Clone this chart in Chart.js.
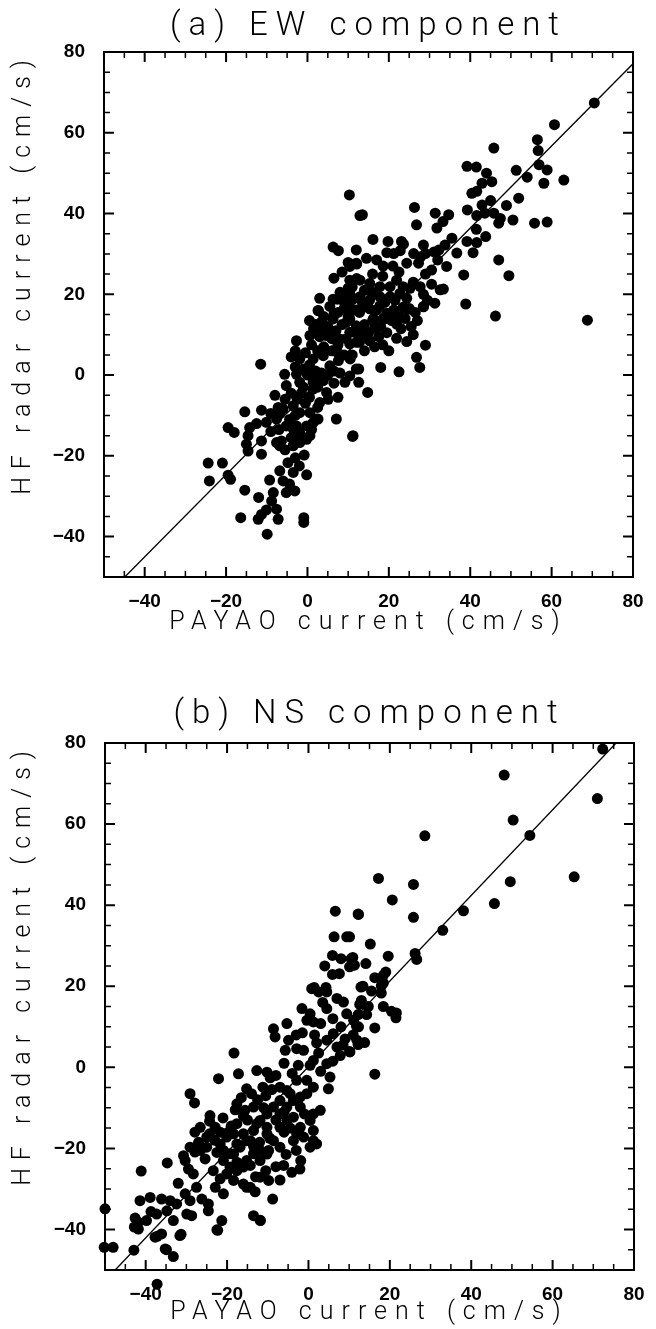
<!DOCTYPE html>
<html>
<head>
<meta charset="utf-8">
<script src="https://cdn.jsdelivr.net/npm/chart.js@4.4.1/dist/chart.umd.min.js"></script>
<style>
    body { margin: 0; background: #fff; }
    .panel { position: absolute; left: 0; width: 656px; }
    #panel-a { top: 0; height: 664px; }
    #panel-b { top: 664px; height: 665px; }
</style>
</head>
<body>
<div class="panel" id="panel-a"><canvas id="chart-a"></canvas></div>
<div class="panel" id="panel-b"><canvas id="chart-b"></canvas></div>
<script>
// axis tick labels (same on both panels)
const tick_labels = [-40, -20, 0, 20, 40, 60, 80];

// (a) EW component: [PAYAO, HF radar] in cm/s
const ew_points = [
    [70.5,67.4],[60.7,62.0],[56.5,58.3],[56.7,55.6],[45.8,56.2],[39.2,51.7],[41.5,51.5],[44.0,50.0],
    [51.3,50.7],[54.0,49.0],[56.9,52.1],[58.9,50.8],[58.1,47.5],[63.0,48.3],[42.9,47.5],[45.3,47.9],
    [40.4,45.0],[41.6,45.5],[42.9,42.1],[45.0,43.2],[48.9,42.0],[51.9,43.8],[39.3,40.9],[41.6,39.5],
    [43.6,40.1],[45.8,40.1],[47.4,38.8],[47.0,37.6],[50.5,38.4],[55.8,37.6],[58.9,37.9],[41.5,36.1],
    [43.8,34.3],[39.2,33.1],[41.6,32.8],[40.7,30.3],[47.0,28.5],[49.5,24.6],[38.4,24.8],[36.7,30.2],
    [35.5,33.9],[33.3,38.0],[31.8,36.4],[34.7,39.7],[31.4,40.1],[26.3,41.5],[26.8,37.2],[13.5,39.7],
    [10.3,44.6],[16.1,33.6],[19.8,33.1],[23.1,33.1],[28.5,32.2],[33.8,32.2],[30.5,26.0],[34.2,26.9],
    [27.7,21.9],[32.6,21.1],[33.4,21.3],[31.3,17.8],[28.5,16.9],[24.0,16.5],[24.8,16.3],[38.9,17.6],
    [46.2,14.6],[68.8,13.6],
    [12.9,39.5],[6.3,31.7],[7.6,30.8],[10.0,27.9],[12.1,27.5],[6.5,24.0],[12.1,23.9],[10.0,21.5],
    [11.0,21.8],[7.3,18.8],[9.2,18.8],[2.7,15.9],
    [14.5,28.9],[17.0,28.5],[19.5,30.3],[21.2,30.1],[22.8,30.8],[23.6,32.4],[26.1,30.1],[27.8,29.3],
    [29.0,30.1],[31.1,30.5],[32.3,31.0],[10.4,26.9],[12.0,27.7],[18.6,27.0],[21.0,27.0],[24.4,27.7],
    [27.3,27.7],[10.4,23.5],[12.9,23.5],[15.3,22.7],[17.8,21.9],[20.3,21.9],[21.9,23.5],[23.5,21.9],
    [25.2,21.5],[10.4,20.2],[12.9,19.4],[15.3,18.6],[17.8,19.4],[20.3,19.4],[22.7,20.2],[24.4,19.0],
    [10.4,16.9],[12.0,16.1],[14.5,16.9],[17.0,16.1],[19.5,15.3],[21.2,16.1],[16.2,14.0],[18.6,14.0],
    [20.7,14.0],
    [28.5,17.0],[23.5,16.8],[25.0,16.5],[21.9,9.1],[24.4,8.3],[29.0,7.4],[26.8,4.4],[27.6,1.9],
    [18.0,1.9],[22.5,0.8],[12.6,1.5],[12.6,-1.8],[14.8,-4.3],[11.1,-15.2],[21.9,12.6],[19.0,13.9],
    [20.7,13.5],[16.5,11.6],[15.3,8.5],[12.8,8.1],[10.4,7.7],[11.6,10.6],[13.7,9.8],[10.4,13.9],
    [12.8,15.5],[15.3,16.4],[17.8,17.2],[10.4,-0.2],
    [2.6,16.0],[6.3,18.8],[8.8,18.4],[11.2,18.8],[3.4,13.1],[6.3,13.9],[9.6,13.1],[12.0,12.2],
    [0.6,9.8],[-2.7,8.5],[-1.9,4.0],[1.4,4.0],[4.7,9.8],[8.0,8.9],[10.4,10.6],[12.0,8.1],
    [3.9,4.8],[5.5,2.3],[7.6,3.6],[9.2,-1.8],[12.0,1.5],[7.1,-10.9],[11.2,-15.0],[-5.6,0.2],
    [-2.7,0.2],[-0.2,0.7],[2.2,-0.2],[3.9,-1.4],[-5.2,-2.6],[-1.9,-1.8],[1.4,-1.8],[4.7,-4.3],
    [5.1,-6.0],[1.4,-3.5],[3.0,-6.8],[-3.5,-7.6],[-1.9,-9.3],[0.6,-9.3],[2.2,-10.9],[-6.8,-9.5],
    [-4.4,-11.0],[-2.7,-12.6],[-0.2,-12.6],[1.4,-11.8],[2.6,-10.9],[-10.1,-11.7],[-7.6,-10.9],[-6.0,-8.4],
    [-5.2,-12.6],[-3.5,-13.4],[-1.9,-14.2],[0.6,-15.0],[-7.6,-16.7],[-6.4,-16.3],[-3.5,-17.5],[-1.9,-16.7],
    [-0.2,-15.9],[-0.8,-19.8],[-0.2,-24.7],[-15.4,-9.1],[-11.3,-8.7],[-7.2,-8.0],[-19.5,-13.0],[-18.0,-14.2],
    [-14.2,-13.0],[-14.6,-15.0],[-15.0,-17.1],[-14.6,-18.8],[-11.3,-16.3],[-11.3,-19.6],[-6.8,-17.5],[-24.4,-21.8],
    [-20.9,-21.8],[-24.1,-26.2],[-19.5,-24.8],[-18.9,-25.8],[-15.4,-28.5],[-9.3,-26.0],[-6.8,-23.7],[-4.8,-21.7],
    [-3.5,-24.1],[-6.0,-26.2],[-4.4,-27.0],[-3.1,-28.7],[-5.2,-29.1],[-8.4,-29.1],[-8.8,-31.2],[-7.6,-33.2],
    [-7.2,-35.7],[-12.0,-30.3],[-16.4,-35.3],[-12.1,-35.7],[-11.3,-34.5],[-10.1,-33.4],[-9.9,-39.4],[-0.9,-35.3],
    [-0.9,-36.5],[-11.5,2.7],
    [-3.0,2.0],[-1.0,1.5],[0.5,2.5],[2.0,1.0],[3.5,0.5],[5.0,0.0],[6.5,1.0],[8.0,0.5],
    [-0.5,5.5],[2.5,6.0],[4.0,7.0],[6.0,6.0],[7.5,5.5],[9.0,5.0],[10.5,4.0],[1.0,7.5],
    [3.0,9.5],[6.0,9.0],[7.0,11.0],[5.0,12.0],[8.5,12.5],[10.0,14.5],[1.5,11.5],[4.0,14.5],
    [7.5,15.5],[9.0,16.5],[5.5,17.0],[3.0,19.0],[8.0,20.5],[10.5,19.0],[-4.0,4.5],[-3.0,6.0],
    [0.0,0.0],[-1.5,-4.5],[0.5,-5.5],[2.5,-8.0],[-4.0,-4.5],[-2.5,-6.0],[-0.5,-7.0],[-3.0,-10.0],
    [-5.5,-6.0],[-8.0,-5.0],[-7.0,-13.5],[-9.0,-14.0],[-4.0,-15.5],[1.0,-13.5],[-12.5,-12.0],[-9.0,-9.5],
    [-5.5,-18.5],[-3.0,-20.5],[-2.0,-22.5],
    [14.0,12.5],[16.0,13.5],[18.0,12.0],[13.0,11.0],[15.0,10.5],[17.5,9.5],[19.5,10.5],[14.0,6.0],
    [16.5,7.0],[18.5,7.5],[20.0,6.0],[11.0,5.0],[23.0,11.5],[25.5,12.0],[26.0,10.0],[22.5,14.5],
    [24.0,14.0],[27.0,13.5],[26.5,15.5],[29.5,18.5],[28.5,20.0],[30.5,22.5],[29.0,25.0],[26.0,23.0],
    [32.0,28.5],
    [2.0,12.5],[3.5,11.0],[5.5,10.5],[7.5,7.5],[9.5,9.0],[0.5,13.5],[6.5,15.0],[11.0,16.0],
    [13.5,18.0],[16.0,20.5],[19.0,18.0],[21.5,18.5],[14.0,21.0],[18.5,24.5],[22.5,25.5],[16.0,25.0],
    [12.0,31.0],[8.5,25.5],[-1.0,-3.0],[2.5,-3.0],[6.5,-2.0],[7.5,-5.5],[-2.5,-16.0]
];

// (b) NS component: [PAYAO, HF radar] in cm/s
const ns_points = [
    [72.3,78.5],[48.1,72.1],[71.0,66.3],[50.3,61.0],[54.4,57.2],[28.6,57.1],[65.3,47.0],[17.2,46.6],
    [25.8,45.1],[49.6,45.8],[20.6,41.3],[45.7,40.4],[38.1,38.6],[12.2,37.8],[25.8,37.0],[33.0,33.8],
    [10.1,32.2],[15.2,30.4],[10.5,26.8],[10.1,24.8],[14.1,25.6],[19.6,27.4],[26.2,28.1],[26.6,26.6],
    [16.3,22.1],[18.4,22.7],[19.0,23.5],[13.4,20.0],[17.9,20.1],
    [15.5,18.8],[17.9,18.3],[18.4,20.8],[12.6,15.5],[14.7,15.0],[14.3,13.0],[12.2,13.0],[18.4,15.0],
    [20.4,13.8],[21.6,13.4],[21.5,12.2],[16.3,9.7],[11.8,10.1],[11.0,8.0],[13.8,6.1],[12.2,5.6],
    [10.1,3.9],[16.3,-1.7],
    [6.6,38.5],[12.3,37.7],[6.3,32.2],[9.4,32.2],[5.9,27.6],[8.0,26.8],[10.9,27.1],[11.3,25.2],
    [4.0,25.0],[5.9,22.9],[7.6,23.1],[1.4,19.7],[4.3,19.7],[12.9,19.8],
    [-50.0,-34.9],[-50.2,-44.4],[-48.0,-44.4],[-42.9,-45.1],[-41.1,-25.6],[-41.4,-32.9],[-42.6,-37.2],[-41.8,-38.2],
    [-41.8,-39.9],[-38.7,-35.6],[-37.7,-41.9],[-36.1,-41.1],[-35.2,-44.8],[-33.2,-46.7],[-34.7,-23.6],[-36.1,-32.5],
    [-34.0,-32.9],[-32.4,-33.7],[-31.6,-41.5],[-32.0,-28.6],[-30.3,-31.2],[-29.1,-32.9],[-30.3,-23.0],[-29.5,-25.1],
    [-28.3,-26.3],[-29.9,-36.2],[-28.7,-36.6],[-26.6,-20.5],[-25.0,-19.7],[-25.4,-22.6],[-24.3,-16.4],[-21.7,-16.0],
    [-19.7,-16.0],[-27.9,-16.0],[-29.1,-6.5],[-28.0,-8.8],[-24.2,-11.9],[-24.3,-13.3],[-22.1,-2.8],[-18.3,3.5],
    [-17.2,-1.6],[-23.4,-25.5],[-21.7,-27.5],[-22.9,-29.6],[-20.9,-31.2],[-24.6,-33.7],[-27.5,-29.6],[-26.2,-32.5],
    [-24.6,-35.4],[-21.3,-37.8],[-22.5,-40.1],[-13.5,-36.6],[-11.9,-37.7],[-15.2,-29.6],[-13.1,-30.7],[-8.8,-32.5],
    [-9.8,-27.9],[-7.0,-27.8],[-6.1,-24.2],[-4.1,-25.9],[-2.1,-25.1],[-1.9,-23.0],[-12.7,-0.8],[-10.2,-1.2],
    [-9.4,-2.6],[-11.2,-4.9],[-15.2,-5.3],[-17.6,-9.0],[-15.6,-10.6],[-13.5,-9.8],[-19.3,-21.3],[-17.6,-23.4],
    [-14.3,-24.2],[-13.5,-21.3],[-11.9,-20.5],[-9.8,-20.5],[-8.6,9.5],[-8.2,7.5],[-5.3,10.8],[-4.9,6.7],
    [-5.7,4.2],[-1.6,14.5],[0.4,13.2],[1.2,11.2],[-0.4,11.6],[0.8,19.4],[2.5,18.6],[4.5,18.6],
    [7.0,17.0],[8.6,16.1],[4.5,14.5],[3.0,10.8],[-2.9,4.6],[-1.2,4.2],[1.2,1.7],[0.4,0.5],
    [4.5,6.7],[6.1,8.3],[7.0,5.0],[7.8,2.9],[10.2,3.8],[11.9,6.7],[9.4,13.2],[11.1,11.6],
    [12.3,10.0],[4.5,0.9],[5.3,-2.4],[4.9,-5.3],[2.9,-10.6],[1.2,-11.5],[0.4,-13.1],[1.2,-15.6],
    [1.2,-18.1],[2.0,-18.9],[0.4,-19.7],
    [-2.0,-9.8],[-3.7,-12.3],[-5.3,-13.1],[-7.0,-14.8],[-2.0,-14.8],[-1.2,-17.2],[-2.9,-16.4],[-3.7,-18.1],
    [-7.0,-8.2],[-8.6,-9.8],[-10.2,-11.5],[-11.9,-13.1],[-10.2,-14.8],[-7.0,-11.5],[-5.3,-9.8],[-3.7,-8.2],
    [-2.0,-7.3],[-0.4,-6.5],[1.2,-4.9],[-0.4,-3.2],[-2.9,-3.2],[-5.3,-5.7],[-7.0,-4.9],[-17.6,-13.9],
    [-16.0,-16.4],[-15.2,-18.1],[-17.6,-18.9],[-18.4,-21.4],[-20.9,-20.5],[-21.7,-18.9],[-20.1,-17.2],[-18.4,-16.4],
    [-16.8,-19.7],[-14.3,-18.1],[-13.5,-15.6],[-12.7,-13.9],[-10.2,-16.4],[-8.6,-18.1],[-7.0,-19.7],[-10.2,-21.4],
    [-11.9,-23.0],[-15.2,-23.0],[-16.0,-24.6],[-17.6,-25.5],[-19.3,-24.6],[-20.9,-23.0],[-20.1,-26.3],[-18.4,-27.9],
    [-16.0,-28.8],[-14.3,-29.6],[-11.9,-27.1],
    [-26.6,-14.8],[-25.0,-17.2],[-22.9,-14.8],[-27.0,-18.5],[-29.1,-19.7],[-30.7,-21.8],[-27.9,-20.9],
    [-39.8,-37.8],[-37.3,-36.2],[-38.9,-32.1],[-34.8,-35.4],[-33.2,-37.8],
    [-42.8,-39.4],[-37.2,-41.7],[-34.9,-45.0],[-31.3,-41.2],[-22.3,-40.2],[-11.8,-37.8],[-37.2,-53.5],
    [8.0,10.0],[13.0,16.5],[9.0,7.0],[6.0,12.0],[2.0,6.0],[-3.0,8.0],[-6.0,1.0],[-8.0,-2.0],
    [-18.0,-10.5],[-16.5,-7.5],[-14.0,-6.5],[-12.5,-8.0],[-10.5,-7.0],[-9.0,-5.5],[-8.0,-13.0],[-6.0,-16.0],
    [-4.5,-15.0],[-9.5,-17.5],[-12.0,-18.5],[-13.5,-19.5],[-11.0,-10.0],[-6.0,-11.0],[-4.5,-6.5],[-1.0,-11.5],
    [-15.0,-13.0],[-16.0,-12.0],[-19.0,-14.5],[-21.0,-12.5],[-22.5,-21.0],[-23.0,-18.0],[-8.0,-24.5],[-5.5,-21.5],
    [-3.0,-20.5],[-10.5,-25.5],[-13.0,-27.0],[-2.5,0.5],[-4.0,-1.5],[2.5,3.5],[3.0,-1.0],[6.0,1.5],
    [8.5,5.5],[-1.5,8.5],[1.5,8.0],[3.5,16.0]
];

// regression lines, end points read where they meet the frame
const ew_line = [[-44.9, -50], [80, 77.1]];
const ns_line = [[-47.5, -50], [75.6, 80]];

const TITLE_SPACING = 8;

// frame with inward ticks on all four sides, letter spacing for titles only,
// and the scatter points that fall just outside the frame
const frame_ticks = {
    id: 'frameTicks',
    beforeDraw(chart) {
        chart.ctx.letterSpacing = TITLE_SPACING + 'px';
    },
    beforeDatasetsDraw(chart) {
        const ctx = chart.ctx;
        ctx.letterSpacing = '0px';
        const {left, right, top, bottom} = chart.chartArea;
        const xs = chart.scales.x;
        const ys = chart.scales.y;
        ctx.save();
        ctx.strokeStyle = '#000';
        ctx.lineWidth = 2;
        ctx.strokeRect(left, top, right - left, bottom - top);
        for (let v = xs.min + 5; v < xs.max; v += 5) {
            const major = (v % 20 === 0);
            const len = major ? 10 : 6;
            const px = xs.getPixelForValue(v);
            ctx.lineWidth = major ? 2 : 1.5;
            ctx.beginPath();
            ctx.moveTo(px, bottom); ctx.lineTo(px, bottom - len);
            ctx.moveTo(px, top); ctx.lineTo(px, top + len);
            ctx.stroke();
        }
        for (let v = ys.min + 5; v < ys.max; v += 5) {
            const major = (v % 20 === 0);
            const len = major ? 10 : 6;
            const py = ys.getPixelForValue(v);
            ctx.lineWidth = major ? 2 : 1.5;
            ctx.beginPath();
            ctx.moveTo(left, py); ctx.lineTo(left + len, py);
            ctx.moveTo(right, py); ctx.lineTo(right - len, py);
            ctx.stroke();
        }
        ctx.restore();
    },
    afterDatasetsDraw(chart) {
        // Chart.js skips points lying outside the chart area; draw those here
        const a = chart.chartArea;
        const wide = {left: a.left - 40, right: a.right + 40, top: a.top - 40, bottom: a.bottom + 40};
        chart.getDatasetMeta(1).data.forEach(function(el) {
            if (el.y > a.bottom + 5 || el.y < a.top - 5 || el.x < a.left - 5 || el.x > a.right + 5) {
                el.draw(chart.ctx, wide);
            }
        });
    }
};

function minus_label(v) {
    return v < 0 ? '\u2212' + Math.abs(v) : String(v);
}

function build_scatter(canvas_id, points, line, cfg) {
    var ctx = document.getElementById(canvas_id).getContext('2d');
    const tick_font = {family: 'Liberation Sans', weight: 'bold', size: 19};
    const label_font = {family: 'Roboto', weight: '300', size: 25, lineHeight: 1.2};

    return new Chart(ctx, {
        data: {
            datasets: [{
                type: 'line',
                data: line.map(p => ({x: p[0], y: p[1]})),
                borderColor: '#000',
                borderWidth: 1.3,
                pointRadius: 0,
                fill: false
            }, {
                type: 'scatter',
                data: points.map(p => ({x: p[0], y: p[1]})),
                backgroundColor: '#000',
                borderWidth: 0,
                pointRadius: 5.5,
                clip: false
            }]
        },
        options: {
            responsive: true,
            maintainAspectRatio: false,
            devicePixelRatio: 1,
            animation: false,
            layout: {padding: {left: 0, right: cfg.pad_right, top: 0, bottom: 0}},
            plugins: {
                legend: {display: false},
                tooltip: {enabled: false},
                title: {
                    display: true,
                    text: cfg.title,
                    color: '#000',
                    fullSize: false,
                    font: {family: 'Roboto', weight: '300', size: 33, lineHeight: 1.2},
                    padding: cfg.title_pad
                }
            },
            scales: {
                x: {
                    type: 'linear',
                    min: -50,
                    max: 80,
                    afterBuildTicks: (s) => { s.ticks = tick_labels.map(v => ({value: v})); },
                    afterFit: (s) => { s.height = cfg.x_height; s.paddingLeft = 0; s.paddingRight = 0; },
                    grid: {display: false},
                    border: {display: false},
                    ticks: {color: '#000', font: tick_font, padding: 5, maxRotation: 0, autoSkip: false, z: 1,
                            callback: minus_label},
                    title: {display: true, text: 'PAYAO current (cm/s)', color: '#000', font: label_font,
                            padding: {top: 0, bottom: cfg.x_title_pad}}
                },
                y: {
                    type: 'linear',
                    min: -50,
                    max: 80,
                    afterBuildTicks: (s) => { s.ticks = tick_labels.map(v => ({value: v})); },
                    afterFit: (s) => { s.width = cfg.y_width; s.paddingTop = 0; s.paddingBottom = 0; },
                    grid: {display: false},
                    border: {display: false},
                    ticks: {color: '#000', font: tick_font, padding: 11, autoSkip: false, z: 1,
                            callback: minus_label},
                    title: {display: true, text: 'HF radar current (cm/s)', color: '#000', font: label_font,
                            align: 'end', padding: {top: 9, bottom: 0}}
                }
            }
        },
        plugins: [frame_ticks]
    });
}

build_scatter('chart-a', ew_points, ew_line, {
    title: '(a) EW component',
    title_pad: {top: 7, bottom: 5.4},
    pad_right: 23,
    y_width: 104,
    x_height: 87,
    x_title_pad: 26
});

build_scatter('chart-b', ns_points, ns_line, {
    title: '(b) NS component',
    title_pad: {top: 31, bottom: 8.4},
    pad_right: 22,
    y_width: 105,
    x_height: 59,
    x_title_pad: 1
});
</script>
</body>
</html>
